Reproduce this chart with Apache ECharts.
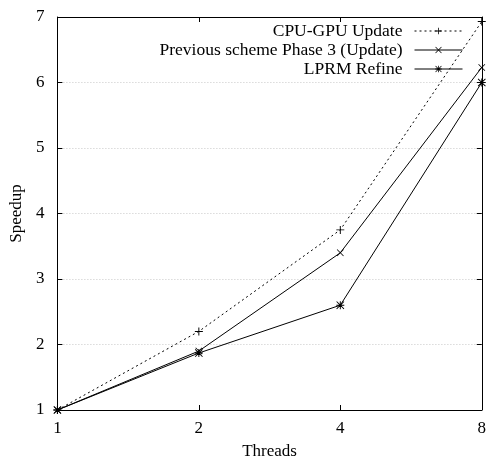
<!DOCTYPE html>
<html>
<head>
<meta charset="utf-8">
<script src="https://cdn.jsdelivr.net/npm/echarts@6/dist/echarts.min.js"></script>
<style>
  html, body { margin: 0; padding: 0; background: #fff; }
  #chart { width: 489px; height: 465px; }
</style>
</head>
<body>
<div id="chart"></div>
<script>
const threads = ["1", "2", "4", "8"];
const cpuGpuUpdate = [1, 2.2, 3.75, 6.93];
const previousPhase3 = [1, 1.9, 3.4, 6.23];
const lprmRefine = [1, 1.87, 2.6, 6.0];

// gnuplot style point markers
const plusPath = "path://M4.4,0H5.6V4.4H10V5.6H5.6V10H4.4V5.6H0V4.4H4.4Z";
const crossPath = "path://M0,0.8L0.8,0L5,4.2L9.2,0L10,0.8L5.8,5L10,9.2L9.2,10L5,5.8L0.8,10L0,9.2L4.2,5Z";
const starPath = "path://M4.4,0H5.6V4.4H10V5.6H5.6V10H4.4V5.6H0V4.4H4.4Z M0,0.8L0.8,0L5,4.2L9.2,0L10,0.8L5.8,5L10,9.2L9.2,10L5,5.8L0.8,10L0,9.2L4.2,5Z";

const font = "Liberation Serif";
var chart = echarts.init(document.getElementById("chart"));

const option = {
  animation: false,
  textStyle: { fontFamily: font, color: "#000" },
  grid: { left: 56, right: 5, top: 17, bottom: 52 },
  legend: {
    orient: "vertical",
    right: 26,
    top: 22,
    padding: 0,
    align: "right",
    itemWidth: 48,
    itemHeight: 8,
    itemGap: 1,
    lineStyle: { width: 1 },
    textStyle: { fontFamily: font, fontSize: 17.5, color: "#000", lineHeight: 18, padding: [0, 7, 0, 0] },
    data: ["CPU-GPU Update", "Previous scheme Phase 3 (Update)", "LPRM Refine"],
  },
  xAxis: [
    {
      type: "category",
      data: threads,
      boundaryGap: false,
      name: "Threads",
      nameLocation: "middle",
      nameGap: 33,
      nameTextStyle: { fontFamily: font, fontSize: 17, color: "#000" },
      axisLine: { lineStyle: { color: "#000", width: 1 } },
      axisTick: { inside: true, length: 5, lineStyle: { color: "#000" } },
      axisLabel: { fontFamily: font, fontSize: 17, color: "#000", margin: 10 },
      splitLine: { show: false },
    },
    {
      type: "category",
      data: threads,
      boundaryGap: false,
      position: "top",
      axisLine: { lineStyle: { color: "#000", width: 1 } },
      axisTick: { inside: true, length: 5, lineStyle: { color: "#000" } },
      axisLabel: { show: false },
      splitLine: { show: false },
    },
  ],
  yAxis: [
    {
      type: "value",
      min: 1,
      max: 7,
      interval: 1,
      name: "Speedup",
      nameLocation: "middle",
      nameGap: 31,
      nameTextStyle: { fontFamily: font, fontSize: 17, color: "#000" },
      axisLine: { show: true, lineStyle: { color: "#000", width: 1 } },
      axisTick: { show: true, inside: true, length: 5, lineStyle: { color: "#000" } },
      axisLabel: { fontFamily: font, fontSize: 17, color: "#000", margin: 13 },
      splitLine: { show: true, lineStyle: { color: "#c8c8c8", type: [1, 2], width: 1 } },
    },
    {
      type: "value",
      min: 1,
      max: 7,
      interval: 1,
      position: "right",
      axisLine: { show: true, lineStyle: { color: "#000", width: 1 } },
      axisTick: { show: true, inside: true, length: 5, lineStyle: { color: "#000" } },
      axisLabel: { show: false },
      splitLine: { show: false },
    },
  ],
  series: [
    {
      name: "CPU-GPU Update",
      type: "line",
      data: cpuGpuUpdate,
      symbol: plusPath,
      symbolSize: 8,
      itemStyle: { color: "#000" },
      lineStyle: { color: "#000", width: 1, type: [2, 3] },
      z: 3,
    },
    {
      name: "Previous scheme Phase 3 (Update)",
      type: "line",
      data: previousPhase3,
      symbol: crossPath,
      symbolSize: 7,
      itemStyle: { color: "#000" },
      lineStyle: { color: "#000", width: 1 },
      z: 3,
    },
    {
      name: "LPRM Refine",
      type: "line",
      data: lprmRefine,
      symbol: starPath,
      symbolSize: 8,
      itemStyle: { color: "#000" },
      lineStyle: { color: "#000", width: 1 },
      z: 3,
    },
  ],
};
chart.setOption(option);
</script>
</body>
</html>
